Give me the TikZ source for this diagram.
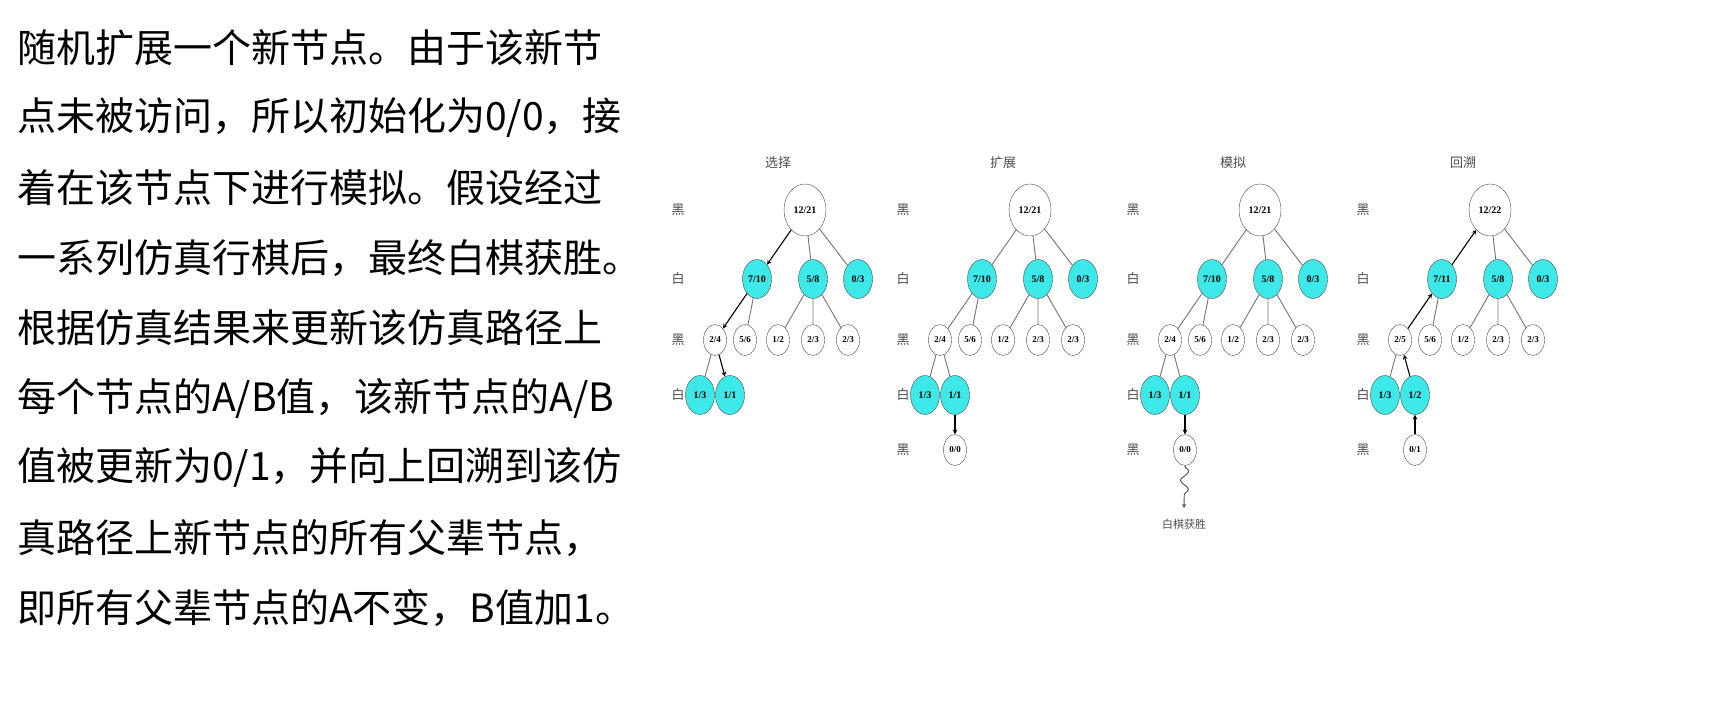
\documentclass[tikz,border=0pt]{standalone}
\usepackage{fontspec}
\setmainfont{Liberation Serif}
\newfontfamily\cjk{Noto Sans CJK SC}
\usetikzlibrary{decorations.pathmorphing,shapes.geometric}
\definecolor{cy}{RGB}{60,232,232}
\tikzset{
 bigtxt/.style={anchor=west,inner sep=0},
 root/.style={draw=black!70,ellipse,minimum width=42,minimum height=52,inner sep=0,font=\fontsize{10}{10}\selectfont\bfseries},
 wn/.style={draw=black!70,ellipse,fill=cy,minimum width=29,minimum height=39,inner sep=0,font=\fontsize{10}{10}\selectfont\bfseries},
 bn/.style={draw=black!70,ellipse,minimum width=23,minimum height=31,inner sep=0,font=\fontsize{9}{9}\selectfont\bfseries},
 lbl/.style={font=\cjk\fontsize{13}{13}\selectfont,text=black!70},
 ed/.style={draw=black!55,line width=0.9},
 ar/.style={draw=black,line width=1.1,-stealth},
}
\newcommand\basetree[7]{%
 \begin{scope}[xshift=#2,name prefix=#1]
 \node[lbl] (title) at (778,163) {#3};
 \node[lbl] (l1) at (678,210) {黑};
 \node[lbl] (l2) at (678,279) {白};
 \node[lbl] (l3) at (678,340) {黑};
 \node[lbl] (l4) at (678,395) {白};
 \node[root] (r) at (805,210) {#4};
 \node[wn] (a) at (757,279) {#5};
 \node[wn] (b) at (813,279) {5/8};
 \node[wn] (c) at (858,279) {0/3};
 \node[bn] (a1) at (715,340) {#6};
 \node[bn] (a2) at (745,340) {5/6};
 \node[bn] (b1) at (778,340) {1/2};
 \node[bn] (b2) at (813,340) {2/3};
 \node[bn] (b3) at (848,340) {2/3};
 \node[wn] (x1) at (700,395) {1/3};
 \node[wn] (x2) at (730,395) {#7};
 \path[ed] (r)--(b) (r)--(c) (a)--(a2) (b)--(b1) (b)--(b2) (b)--(b3) (a1)--(x1);
 \end{scope}}
\begin{document}
\begin{tikzpicture}[x=1pt,y=-1pt]
\useasboundingbox (0,0) rectangle (1732,713);
\foreach \t [count=\i] in {随机扩展一个新节点。由于该新节,点未被访问，所以初始化为0/0，接,着在该节点下进行模拟。假设经过,一系列仿真行棋后，最终白棋获胜。,根据仿真结果来更新该仿真路径上,每个节点的A/B值，该新节点的A/B,值被更新为0/1，并向上回溯到该仿,真路径上新节点的所有父辈节点，,即所有父辈节点的A不变，B值加1。}
  \node[bigtxt,font=\fontsize{39}{44}\selectfont\cjk] (t\i) at (17,{-22+70*\i}) {\t};
% tree 1
\basetree{s}{0}{选择}{12/21}{7/10}{2/4}{1/1}
\path[ar] (sr)--(sa); \path[ar] (sa)--(sa1); \path[ar] (sa1)--(sx2);
% tree 2
\basetree{e}{225}{扩展}{12/21}{7/10}{2/4}{1/1}
\path[ed] (er)--(ea) (ea)--(ea1) (ea1)--(ex2);
\node[lbl] (el5) at (903,450) {黑};
\node[bn] (ez) at (955,450) {0/0};
\path[ar] (ex2)--(ez);
% tree 3
\basetree{m}{455}{模拟}{12/21}{7/10}{2/4}{1/1}
\path[ed] (mr)--(ma) (ma)--(ma1) (ma1)--(mx2);
\node[lbl] (ml5) at (1133,450) {黑};
\node[bn] (mz) at (1185,450) {0/0};
\path[ar] (mx2)--(mz);
\coordinate (mw) at (1184,508);
\path[draw=black!70,line width=0.9,-stealth,decorate,decoration={snake,amplitude=4,segment length=18,post length=6}] (mz)--(mw);
\node[lbl,font=\cjk\fontsize{11}{11}\selectfont] (mwin) at (1184,524) {白棋获胜};
% tree 4
\basetree{h}{685}{回溯}{12/22}{7/11}{2/5}{1/2}
\node[lbl] (hl5) at (1363,450) {黑};
\node[bn] (hz) at (1415,450) {0/1};
\path[ar] (hz)--(hx2); \path[ar] (hx2)--(ha1); \path[ar] (ha1)--(ha); \path[ar] (ha)--(hr);
\end{tikzpicture}
\end{document}
